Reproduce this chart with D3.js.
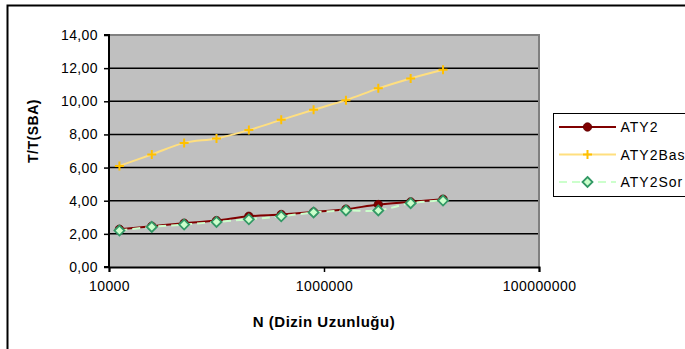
<!DOCTYPE html>
<html>
<head>
<meta charset="utf-8">
<script src="https://cdn.jsdelivr.net/npm/d3@7"></script>
<style>
    body { margin: 0; background: #fff; }
    text { font-family: "Liberation Sans", Arial, sans-serif; fill: #000; }
    .tick-label { font-size: 14px; letter-spacing: 0.4px; }
    .axis-label { font-size: 14px; font-weight: bold; letter-spacing: 0.5px; }
    .x-label { font-size: 15px; }
    .legend-label { font-size: 14px; letter-spacing: 1px; }
</style>
</head>
<body>
<svg id="chart"></svg>
<script>
const chartWidth = 685;
const chartHeight = 349;
const margin = {top: 35, right: 146, bottom: 82, left: 109};
const innerWidth = chartWidth - margin.left - margin.right;
const innerHeight = chartHeight - margin.top - margin.bottom;

// data
const N_VALUES = [12500, 25000, 50000, 100000, 200000, 400000, 800000, 1600000, 3200000, 6400000, 12800000];
const ATY2 = [2.28, 2.46, 2.64, 2.80, 3.06, 3.17, 3.32, 3.49, 3.77, 3.93, 4.09];
const ATY2_BAS = [6.10, 6.79, 7.49, 7.76, 8.26, 8.88, 9.49, 10.07, 10.78, 11.38, 11.90];
const ATY2_SOR = [2.20, 2.42, 2.56, 2.72, 2.88, 3.06, 3.29, 3.41, 3.41, 3.85, 4.01];
const SERIES_NAMES = ["ATY2", "ATY2Bas", "ATY2Sor"];
const X_TICKS = [10000, 1000000, 100000000];
const Y_TICKS = [0, 2, 4, 6, 8, 10, 12, 14];

const X_LABEL = "N (Dizin Uzunluğu)";
const Y_LABEL = "T/T(SBA)";

const PLOT_BG = "#c0c0c0";

let xScale = d3.scaleLog().domain([10000, 100000000]).range([0, innerWidth]);
let yScale = d3.scaleLinear().domain([0, 14]).range([innerHeight, 0]);

let chartSvg = d3.select("#chart")
    .attr("width", chartWidth)
    .attr("height", chartHeight);

// outer chart border (cut by the window on the right and bottom)
chartSvg.append("rect")
    .attr("x", 7.5)
    .attr("y", 5.5)
    .attr("width", 720)
    .attr("height", 400)
    .attr("fill", "none")
    .attr("stroke", "#000")
    .attr("stroke-width", 2);

let chartG = chartSvg.append("g")
    .attr("transform", `translate(${margin.left}, ${margin.top})`);

chartG.append("rect")
    .attr("width", innerWidth)
    .attr("height", innerHeight)
    .attr("fill", PLOT_BG);

// gridlines
chartG.selectAll(".grid")
    .data(Y_TICKS.slice(1, -1))
    .join("line")
    .attr("class", "grid")
    .attr("x1", 0)
    .attr("x2", innerWidth)
    .attr("y1", d => yScale(d))
    .attr("y2", d => yScale(d))
    .attr("stroke", "#000")
    .attr("stroke-width", 1.5);

// plot border top / right
chartG.append("path")
    .attr("d", `M0,${yScale(14)}H${innerWidth}V${innerHeight}`)
    .attr("fill", "none")
    .attr("stroke", "#808080")
    .attr("stroke-width", 2);

// axes
let yAxis = d3.axisLeft(yScale)
    .tickValues(Y_TICKS)
    .tickSize(5)
    .tickPadding(6)
    .tickFormat(d => d3.format(".2f")(d).replace(".", ","));
let yAxisG = chartG.append("g").attr("class", "axis").call(yAxis);

let xAxis = d3.axisBottom(xScale)
    .tickValues(X_TICKS)
    .tickSize(5)
    .tickPadding(9)
    .tickFormat(d3.format("d"));
let xAxisG = chartG.append("g")
    .attr("class", "axis")
    .attr("transform", `translate(0,${innerHeight})`)
    .call(xAxis);

for (let g of [yAxisG, xAxisG]) {
    g.select(".domain").attr("stroke", "#000").attr("stroke-width", 2);
    g.selectAll(".tick line").attr("stroke", "#000").attr("stroke-width", 1.5);
    g.selectAll(".tick text").attr("class", "tick-label").attr("font-size", null).attr("font-family", null);
}
yAxisG.select(".domain").attr("d", `M-5,${innerHeight}H0V0H-5`);

chartG.append("text")
    .attr("class", "axis-label x-label")
    .attr("text-anchor", "middle")
    .attr("x", xScale(1000000))
    .attr("y", innerHeight + 60)
    .text(X_LABEL);

chartG.append("text")
    .attr("class", "axis-label")
    .attr("text-anchor", "middle")
    .attr("transform", `translate(${38 - margin.left}, ${131 - margin.top}) rotate(-90)`)
    .text(Y_LABEL);

// series
let seriesData = [ATY2, ATY2_BAS, ATY2_SOR].map(vals => vals.map((v, i) => ({n: N_VALUES[i], v: v})));

let line = d3.line()
    .x(d => xScale(d.n))
    .y(d => yScale(d.v))
    .curve(d3.curveCatmullRom.alpha(0));

const STYLES = [
    {stroke: "#800000", dash: null},
    {stroke: "#ffdf7f", dash: null},
    {stroke: "#ccffcc", dash: "8,5"}
];

seriesData.forEach((data, i) => {
    chartG.append("path")
        .datum(data)
        .attr("fill", "none")
        .attr("stroke", STYLES[i].stroke)
        .attr("stroke-width", 2)
        .attr("stroke-dasharray", STYLES[i].dash)
        .attr("d", line);
    drawMarkers(chartG, data.map(d => [xScale(d.n), yScale(d.v)]), i);
});

function drawMarkers(g, pts, i) {
    if (i === 0) {
        g.selectAll(null).data(pts).join("circle")
            .attr("cx", d => d[0]).attr("cy", d => d[1]).attr("r", 4.2)
            .attr("fill", "#800000").attr("stroke", "#5a0000").attr("stroke-width", 0.8);
    } else if (i === 1) {
        g.selectAll(null).data(pts).join("path")
            .attr("d", d => `M${d[0] - 4.5},${d[1]}H${d[0] + 4.5}M${d[0]},${d[1] - 4.5}V${d[1] + 4.5}`)
            .attr("stroke", "#ffc000").attr("stroke-width", 2);
    } else {
        g.selectAll(null).data(pts).join("path")
            .attr("d", d => `M${d[0]},${d[1] - 5}L${d[0] + 5},${d[1]}L${d[0]},${d[1] + 5}L${d[0] - 5},${d[1]}Z`)
            .attr("fill", "#ccffcc").attr("stroke", "#339966").attr("stroke-width", 1.8);
    }
}

// legend
let legendG = chartSvg.append("g").attr("transform", "translate(553.5, 113.5)");
legendG.append("rect")
    .attr("width", 160)
    .attr("height", 83)
    .attr("fill", "#fff")
    .attr("stroke", "#000")
    .attr("stroke-width", 1);

SERIES_NAMES.forEach((name, i) => {
    let y = 13.5 + i * 27.5;
    legendG.append("line")
        .attr("x1", 5.5).attr("x2", 62.5)
        .attr("y1", y).attr("y2", y)
        .attr("stroke", STYLES[i].stroke)
        .attr("stroke-width", 2)
        .attr("stroke-dasharray", STYLES[i].dash);
    drawMarkers(legendG, [[34, y]], i);
    legendG.append("text")
        .attr("class", "legend-label")
        .attr("x", 67)
        .attr("y", y + 5)
        .text(name);
});
</script>
</body>
</html>
